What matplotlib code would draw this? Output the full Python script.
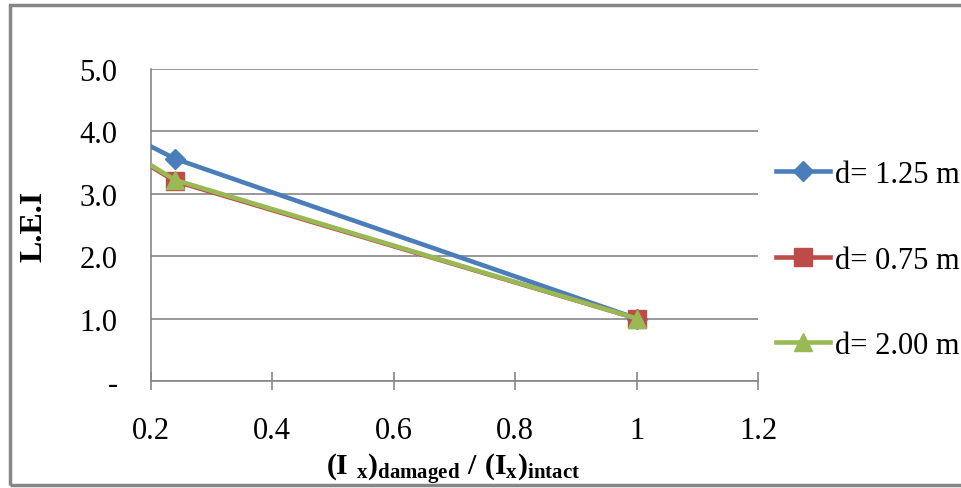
import matplotlib.pyplot as plt
from matplotlib.patches import Rectangle

# ratio of damaged / intact moment of inertia (first point lies left of the visible axis)
ratio = [0.10, 0.24, 1.0]
lei_125 = [4.25, 3.56, 1.0]
lei_075 = [4.03, 3.20, 1.0]
lei_200 = [4.05, 3.22, 1.0]

labels = ['d= 1.25 m', 'd= 0.75 m', 'd= 2.00 m']
yticks = [0, 1, 2, 3, 4, 5]
ytick_labels = ['-', '1.0', '2.0', '3.0', '4.0', '5.0']
xticks = [0.2, 0.4, 0.6, 0.8, 1.0, 1.2]
xtick_labels = ['0.2', '0.4', '0.6', '0.8', '1', '1.2']

plt.rcParams['font.family'] = 'Liberation Serif'
plt.rcParams['mathtext.fontset'] = 'custom'
plt.rcParams['mathtext.rm'] = 'Liberation Serif:bold'
plt.rcParams['mathtext.bf'] = 'Liberation Serif:bold'
plt.rcParams['mathtext.it'] = 'Liberation Serif:bold'

grey = '#868686'
fs = 22

fig = plt.figure(figsize=(9.61, 4.89), dpi=100)
ax = fig.add_axes([0.157, 0.219, 0.632, 0.638])

ax.plot(ratio, lei_125, color='#4A7EBB', lw=3.3, marker='D', ms=10.5, label=labels[0], zorder=3)
ax.plot(ratio, lei_075, color='#BE4B48', lw=3.3, marker='s', ms=13, label=labels[1], zorder=4)
ax.plot(ratio, lei_200, color='#98B954', lw=3.3, marker='^', ms=13, label=labels[2], zorder=5)

ax.set_xlim(0.2, 1.2)
ax.set_ylim(0, 5)
ax.set_xticks(xticks)
ax.set_xticklabels(xtick_labels)
ax.set_yticks(yticks)
ax.set_yticklabels(ytick_labels)
ax.grid(axis='y', color=grey, lw=1.2)
ax.set_axisbelow(True)

for s in ['top', 'right']:
    ax.spines[s].set_visible(False)
for s in ['left', 'bottom']:
    ax.spines[s].set_color(grey)
    ax.spines[s].set_linewidth(1.2)

ax.tick_params(axis='y', length=0, pad=24, labelsize=fs)
ax.tick_params(axis='x', direction='inout', length=13, width=1.2, color=grey, pad=19, labelsize=fs)

ax.set_ylabel('L.E.I', fontsize=23, fontweight='bold', labelpad=22)
fig.text(0.472, 0.04, r'$(I\ _x)_{damaged}\ /\ (I_x)_{intact}$', fontsize=21.5,
         ha='center', va='center')

fig.legend(loc='center left', bbox_to_anchor=(0.795, 0.466), frameon=False,
           fontsize=fs, handlelength=1.77, handletextpad=0.15, labelspacing=1.85,
           borderaxespad=0)

# chart area border
fig.patches.append(Rectangle((10 / 961, 1 - 486 / 489), 1.2, 480 / 489,
                             transform=fig.transFigure, fill=False,
                             edgecolor=grey, lw=2.5))

fig.savefig('out.png', dpi=100)
